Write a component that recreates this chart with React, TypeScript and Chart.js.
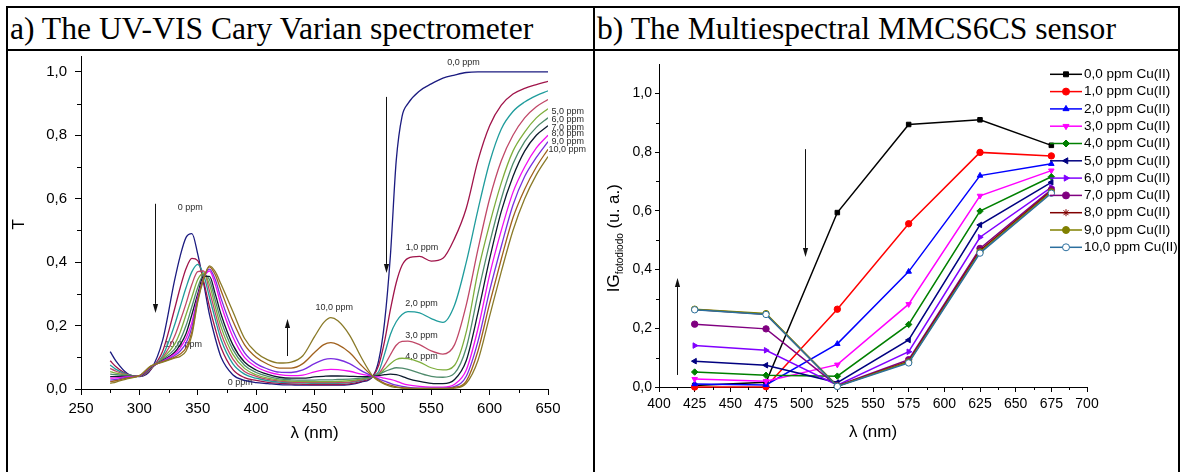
import React, { useEffect, useRef } from 'react';
import { Chart, registerables } from 'chart.js';
import { drawPoint } from 'chart.js/helpers';

Chart.register(...registerables);

const SANS = "'Liberation Sans', Arial, Helvetica, sans-serif";
const SERIF = "'Liberation Serif', 'Times New Roman', Times, serif";

/* ---------------- (a) UV-VIS transmittance spectra ---------------- */

const WAVELENGTHS = [
  275, 280, 290, 300, 310, 320, 330, 335, 340, 345,
  350, 355, 360, 365, 370, 380, 390, 400, 410, 420,
  430, 440, 450, 458, 464, 470, 480, 490, 500, 505,
  510, 515, 520, 525, 530, 540, 550, 560, 570, 580,
  590, 600, 610, 620, 630, 640, 650,
];

const T_00 = [
  0.118, 0.088, 0.048, 0.039, 0.062, 0.155, 0.34, 0.42, 0.478, 0.49,
  0.425, 0.335, 0.235, 0.16, 0.1, 0.045, 0.027, 0.02, 0.017, 0.014,
  0.013, 0.012, 0.012, 0.012, 0.012, 0.012, 0.014, 0.022, 0.04, 0.09,
  0.21, 0.42, 0.72, 0.86, 0.9, 0.94, 0.962, 0.98, 0.99, 0.998,
  1.0, 1.0, 1.0, 1.0, 1.0, 1.0, 1.0,
];
const T_10 = [
  0.089, 0.07, 0.046, 0.04, 0.063, 0.12, 0.25, 0.32, 0.38, 0.412,
  0.405, 0.34, 0.26, 0.19, 0.13, 0.062, 0.036, 0.027, 0.021, 0.018,
  0.016, 0.015, 0.014, 0.014, 0.014, 0.014, 0.016, 0.024, 0.04, 0.075,
  0.15, 0.25, 0.335, 0.39, 0.412, 0.418, 0.403, 0.412, 0.475, 0.57,
  0.72, 0.83, 0.895, 0.93, 0.948, 0.96, 0.97,
];
const T_20 = [
  0.076, 0.062, 0.045, 0.04, 0.065, 0.105, 0.2, 0.26, 0.32, 0.37,
  0.393, 0.36, 0.29, 0.22, 0.155, 0.08, 0.047, 0.034, 0.026, 0.022,
  0.02, 0.019, 0.018, 0.018, 0.018, 0.018, 0.02, 0.027, 0.04, 0.055,
  0.11, 0.172, 0.212, 0.235, 0.244, 0.24, 0.222, 0.21, 0.265, 0.4,
  0.565, 0.715, 0.82, 0.875, 0.905, 0.925, 0.94,
];
const T_30 = [
  0.065, 0.056, 0.044, 0.04, 0.066, 0.1, 0.165, 0.215, 0.27, 0.33,
  0.37, 0.372, 0.31, 0.24, 0.175, 0.095, 0.055, 0.04, 0.03, 0.025,
  0.022, 0.021, 0.02, 0.02, 0.02, 0.02, 0.022, 0.029, 0.04, 0.048,
  0.075, 0.108, 0.138, 0.15, 0.151, 0.14, 0.12, 0.11, 0.14, 0.265,
  0.44, 0.6, 0.72, 0.8, 0.855, 0.89, 0.913,
];
const T_40 = [
  0.055, 0.05, 0.043, 0.04, 0.067, 0.097, 0.14, 0.18, 0.235, 0.29,
  0.345, 0.365, 0.33, 0.26, 0.195, 0.11, 0.065, 0.045, 0.034, 0.028,
  0.025, 0.024, 0.023, 0.023, 0.023, 0.024, 0.026, 0.031, 0.04, 0.046,
  0.062, 0.08, 0.093, 0.097, 0.096, 0.085, 0.067, 0.06, 0.075, 0.18,
  0.37, 0.52, 0.65, 0.75, 0.81, 0.855, 0.884,
];
const T_50 = [
  0.047, 0.045, 0.042, 0.04, 0.068, 0.094, 0.125, 0.155, 0.2, 0.26,
  0.32, 0.36, 0.345, 0.28, 0.215, 0.125, 0.075, 0.052, 0.04, 0.032,
  0.029, 0.028, 0.028, 0.029, 0.029, 0.03, 0.031, 0.034, 0.04, 0.045,
  0.055, 0.062, 0.067, 0.066, 0.062, 0.05, 0.04, 0.037, 0.05, 0.13,
  0.3, 0.46, 0.6, 0.71, 0.78, 0.825, 0.855,
];
const T_60 = [
  0.039, 0.039, 0.04, 0.04, 0.069, 0.09, 0.115, 0.14, 0.175, 0.235,
  0.3, 0.355, 0.355, 0.3, 0.235, 0.14, 0.085, 0.06, 0.046, 0.037,
  0.034, 0.034, 0.038, 0.04, 0.041, 0.041, 0.04, 0.039, 0.04, 0.042,
  0.045, 0.047, 0.045, 0.04, 0.033, 0.024, 0.018, 0.017, 0.03, 0.09,
  0.24, 0.41, 0.56, 0.67, 0.75, 0.8, 0.83,
];
const T_70 = [
  0.034, 0.035, 0.039, 0.041, 0.07, 0.088, 0.11, 0.13, 0.16, 0.21,
  0.29, 0.35, 0.372, 0.33, 0.265, 0.165, 0.1, 0.07, 0.054, 0.045,
  0.042, 0.044, 0.054, 0.06, 0.062, 0.061, 0.056, 0.047, 0.04, 0.038,
  0.034, 0.03, 0.025, 0.018, 0.013, 0.008, 0.006, 0.006, 0.015, 0.06,
  0.19, 0.36, 0.5, 0.62, 0.7, 0.76, 0.8,
];
const T_80 = [
  0.028, 0.03, 0.037, 0.041, 0.071, 0.087, 0.105, 0.12, 0.145, 0.195,
  0.285, 0.35, 0.378, 0.345, 0.285, 0.185, 0.115, 0.08, 0.063, 0.053,
  0.052, 0.06, 0.08, 0.093, 0.096, 0.093, 0.08, 0.058, 0.04, 0.032,
  0.025, 0.018, 0.012, 0.008, 0.005, 0.003, 0.003, 0.003, 0.008, 0.04,
  0.15, 0.31, 0.45, 0.58, 0.67, 0.73, 0.78,
];
const T_90 = [
  0.023, 0.026, 0.035, 0.042, 0.072, 0.086, 0.1, 0.11, 0.13, 0.18,
  0.28, 0.35, 0.385, 0.36, 0.31, 0.215, 0.14, 0.1, 0.078, 0.066,
  0.066, 0.08, 0.115, 0.14, 0.146, 0.14, 0.115, 0.075, 0.04, 0.028,
  0.018, 0.012, 0.007, 0.004, 0.003, 0.002, 0.002, 0.002, 0.005, 0.025,
  0.12, 0.27, 0.41, 0.54, 0.63, 0.7, 0.756,
];
const T_100 = [
  0.018, 0.022, 0.033, 0.042, 0.073, 0.085, 0.097, 0.103, 0.12, 0.17,
  0.275, 0.345, 0.388, 0.37, 0.33, 0.245, 0.16, 0.115, 0.092, 0.082,
  0.085, 0.105, 0.165, 0.21, 0.225, 0.215, 0.17, 0.1, 0.04, 0.025,
  0.015, 0.008, 0.005, 0.003, 0.002, 0.001, 0.001, 0.001, 0.003, 0.018,
  0.09, 0.23, 0.37, 0.5, 0.6, 0.675, 0.733,
];

const SPECTRA_LABELS = ['0,0 ppm', '1,0 ppm', '2,0 ppm', '3,0 ppm', '4,0 ppm', '5,0 ppm', '6,0 ppm', '7,0 ppm', '8,0 ppm', '9,0 ppm', '10,0 ppm'];
const SPECTRA_VALUES = [T_00, T_10, T_20, T_30, T_40, T_50, T_60, T_70, T_80, T_90, T_100];
const SPECTRA_COLORS = ['#1b1b80', '#a0144a', '#1f9c9c', '#c04868', '#7eae3c', '#4f8b6c', '#0c1a2c', '#f20cf2', '#7a2ee0', '#a0601c', '#8a7a28'];

const SPECTRA_X_TICKS = [250, 300, 350, 400, 450, 500, 550, 600, 650];
const SPECTRA_X_MINOR = [275, 325, 375, 425, 475, 525, 575, 625];
const SPECTRA_Y_TICKS = [0, 0.2, 0.4, 0.6, 0.8, 1.0];
const SPECTRA_Y_MINOR = [0.1, 0.3, 0.5, 0.7, 0.9];

// curve annotations, placed in (wavelength, T) coordinates
const SPECTRA_NOTES = [
  { text: '0 ppm', x: 343.5, y: 0.571, align: 'center' },
  { text: '10,0 ppm', x: 337.5, y: 0.139, align: 'center' },
  { text: '0 ppm', x: 386.4, y: 0.019, align: 'center' },
  { text: '10,0 ppm', x: 467, y: 0.256, align: 'center' },
  { text: '1,0 ppm', x: 542, y: 0.445, align: 'center' },
  { text: '2,0 ppm', x: 541.6, y: 0.268, align: 'center' },
  { text: '3,0 ppm', x: 541.6, y: 0.17, align: 'center' },
  { text: '4,0 ppm', x: 541.6, y: 0.101, align: 'center' },
  { text: '0,0 ppm', x: 577.6, y: 1.028, align: 'center' },
  { text: '5,0 ppm', x: 653, y: 0.874, align: 'left' },
  { text: '6,0 ppm', x: 653, y: 0.849, align: 'left' },
  { text: '7,0 ppm', x: 653, y: 0.824, align: 'left' },
  { text: '8,0 ppm', x: 653, y: 0.805, align: 'left' },
  { text: '9,0 ppm', x: 653, y: 0.779, align: 'left' },
  { text: '10,0 ppm', x: 650.5, y: 0.754, align: 'left' },
];
const SPECTRA_ARROWS = [
  { x: 313.5, from: 0.584, to: 0.24 },
  { x: 426.7, from: 0.104, to: 0.221 },
  { x: 511.6, from: 0.921, to: 0.366 },
];

/* ---------------- (b) multispectral sensor response ---------------- */

const SENSOR_WAVELENGTHS = [425, 475, 525, 575, 625, 675];

const IG_00 = [0.005, 0.016, 0.594, 0.894, 0.91, 0.823];
const IG_10 = [0.0, 0.001, 0.265, 0.556, 0.799, 0.787];
const IG_20 = [0.01, 0.007, 0.147, 0.393, 0.72, 0.76];
const IG_30 = [0.027, 0.02, 0.076, 0.282, 0.651, 0.737];
const IG_40 = [0.051, 0.04, 0.037, 0.213, 0.599, 0.716];
const IG_50 = [0.088, 0.074, 0.015, 0.16, 0.552, 0.697];
const IG_60 = [0.141, 0.125, 0.006, 0.12, 0.51, 0.68];
const IG_70 = [0.214, 0.198, 0.004, 0.093, 0.472, 0.672];
const IG_80 = [0.264, 0.248, 0.003, 0.088, 0.465, 0.667];
const IG_90 = [0.265, 0.25, 0.003, 0.085, 0.46, 0.664];
const IG_100 = [0.263, 0.247, 0.002, 0.082, 0.456, 0.66];

const SENSOR_LABELS = [
  '0,0 ppm Cu(II)', '1,0 ppm Cu(II)', '2,0 ppm Cu(II)', '3,0 ppm Cu(II)', '4,0 ppm Cu(II)', '5,0 ppm Cu(II)',
  '6,0 ppm Cu(II)', '7,0 ppm Cu(II)', '8,0 ppm Cu(II)', '9,0 ppm Cu(II)', '10,0 ppm Cu(II)',
];
const SENSOR_VALUES = [IG_00, IG_10, IG_20, IG_30, IG_40, IG_50, IG_60, IG_70, IG_80, IG_90, IG_100];
const SENSOR_COLORS = ['#000000', '#ff0000', '#0000ff', '#ff00ff', '#008000', '#000080', '#8000ff', '#800080', '#800000', '#808000', '#2b6f9e'];
const SENSOR_MARKERS = [
  { style: 'rect', rotation: 0, fill: '' },
  { style: 'circle', rotation: 0, fill: '' },
  { style: 'triangle', rotation: 0, fill: '' },
  { style: 'triangle', rotation: 180, fill: '' },
  { style: 'rectRot', rotation: 0, fill: '' },
  { style: 'triangle', rotation: 270, fill: '' },
  { style: 'triangle', rotation: 90, fill: '' },
  { style: 'circle', rotation: 0, fill: '' },
  { style: 'star', rotation: 0, fill: '' },
  { style: 'circle', rotation: 0, fill: '' },
  { style: 'circle', rotation: 0, fill: '#ffffff' },
];

const SENSOR_X_TICKS = [400, 425, 450, 475, 500, 525, 550, 575, 600, 625, 650, 675, 700];
const SENSOR_X_MINOR = [412.5, 437.5, 462.5, 487.5, 512.5, 537.5, 562.5, 587.5, 612.5, 637.5, 662.5, 687.5];
const SENSOR_Y_TICKS = [0, 0.2, 0.4, 0.6, 0.8, 1.0];
const SENSOR_Y_MINOR = [0.1, 0.3, 0.5, 0.7, 0.9];

const SENSOR_ARROWS = [
  { x: 412.6, from: 0.041, to: 0.371 },
  { x: 502.3, from: 0.81, to: 0.443 },
];

/* ---------------- shared helpers ---------------- */

const commaLabel = (v: any) => Number(v).toFixed(1).replace('.', ',');

function axis(o: {
  min: number; max: number; ticks: number[]; size: number; horizontal: boolean;
  fontSize: number; tickLength: number; padding: number; format: (v: any) => string;
}) {
  return {
    type: 'linear',
    min: o.min,
    max: o.max,
    afterBuildTicks: (s: any) => {
      s.ticks = o.ticks.map((v) => ({ value: v }));
    },
    afterFit: (s: any) => {
      if (o.horizontal) s.height = o.size;
      else s.width = o.size;
      s.paddingTop = 0;
      s.paddingBottom = 0;
      s.paddingLeft = 0;
      s.paddingRight = 0;
    },
    ticks: {
      font: { family: SANS, size: o.fontSize },
      color: '#000',
      padding: o.padding,
      autoSkip: false,
      maxRotation: 0,
      minRotation: 0,
      callback: o.format,
    },
    grid: { display: true, drawOnChartArea: false, drawTicks: true, tickLength: o.tickLength, color: '#000', lineWidth: 1 },
    border: { display: true, color: '#000', width: 1 },
  };
}

function drawMinorTicks(chart: any, xs: number[], ys: number[], len: number) {
  const { ctx, chartArea, scales } = chart;
  ctx.save();
  ctx.strokeStyle = '#000';
  ctx.lineWidth = 1;
  ctx.beginPath();
  xs.forEach((v) => {
    const px = Math.round(scales.x.getPixelForValue(v)) + 0.5;
    ctx.moveTo(px, chartArea.bottom);
    ctx.lineTo(px, chartArea.bottom + len);
  });
  ys.forEach((v) => {
    const py = Math.round(scales.y.getPixelForValue(v)) + 0.5;
    ctx.moveTo(chartArea.left, py);
    ctx.lineTo(chartArea.left - len, py);
  });
  ctx.stroke();
  ctx.restore();
}

function drawArrows(chart: any, arrows: { x: number; from: number; to: number }[]) {
  const { ctx, scales } = chart;
  ctx.save();
  ctx.strokeStyle = '#111';
  ctx.fillStyle = '#111';
  ctx.lineWidth = 1;
  arrows.forEach((a) => {
    const x = Math.round(scales.x.getPixelForValue(a.x)) + 0.5;
    const y0 = scales.y.getPixelForValue(a.from);
    const y1 = scales.y.getPixelForValue(a.to);
    const dir = Math.sign(y1 - y0);
    const head = 9;
    ctx.beginPath();
    ctx.moveTo(x, y0);
    ctx.lineTo(x, y1 - dir * head);
    ctx.stroke();
    ctx.beginPath();
    ctx.moveTo(x, y1);
    ctx.lineTo(x - 2.6, y1 - dir * head);
    ctx.lineTo(x + 2.6, y1 - dir * head);
    ctx.closePath();
    ctx.fill();
  });
  ctx.restore();
}

/* ---------------- panel (a) ---------------- */

const spectraDecor = {
  id: 'spectraDecor',
  beforeDatasetsDraw(chart: any) {
    const { ctx, scales } = chart;
    ctx.save();
    ctx.fillStyle = '#2b2b2b';
    ctx.font = `9px ${SANS}`;
    ctx.textBaseline = 'middle';
    SPECTRA_NOTES.forEach((n) => {
      ctx.textAlign = n.align;
      ctx.fillText(n.text, scales.x.getPixelForValue(n.x), scales.y.getPixelForValue(n.y));
    });
    ctx.restore();
  },
  afterDraw(chart: any) {
    const { ctx, chartArea, scales } = chart;
    drawMinorTicks(chart, SPECTRA_X_MINOR, SPECTRA_Y_MINOR, 4);
    drawArrows(chart, SPECTRA_ARROWS);
    ctx.save();
    ctx.fillStyle = '#000';
    ctx.font = `17px ${SANS}`;
    ctx.textAlign = 'center';
    ctx.textBaseline = 'middle';
    ctx.fillText('λ (nm)', (chartArea.left + chartArea.right) / 2, chartArea.bottom + 44);
    ctx.translate(chartArea.left - 62, scales.y.getPixelForValue(0.5) - 6);
    ctx.rotate(-Math.PI / 2);
    ctx.fillText('T', 0, 0);
    ctx.restore();
  },
};

function SpectraPanel() {
  const ref = useRef<HTMLCanvasElement>(null);
  useEffect(() => {
    const canvas = ref.current;
    if (!canvas) return;
    const chart = new Chart(canvas, {
      type: 'line',
      data: {
        datasets: SPECTRA_VALUES.map((values, i) => ({
          label: SPECTRA_LABELS[i],
          data: WAVELENGTHS.map((w, k) => ({ x: w, y: values[k] })),
          borderColor: SPECTRA_COLORS[i],
          backgroundColor: SPECTRA_COLORS[i],
          borderWidth: 1.3,
          pointRadius: 0,
          cubicInterpolationMode: 'monotone',
          fill: false,
          order: SPECTRA_VALUES.length - i,
        })),
      },
      options: {
        responsive: false,
        animation: false,
        devicePixelRatio: 1,
        events: [],
        layout: { padding: { left: 0, right: 45, top: 4, bottom: 0 }, autoPadding: false },
        plugins: { legend: { display: false }, tooltip: { enabled: false } },
        scales: {
          x: axis({ min: 250, max: 650, ticks: SPECTRA_X_TICKS, size: 83, horizontal: true, fontSize: 15, tickLength: 6, padding: 5, format: (v: any) => String(v) }),
          y: axis({ min: 0, max: 1.05, ticks: SPECTRA_Y_TICKS, size: 73, horizontal: false, fontSize: 15, tickLength: 6, padding: 8, format: commaLabel }),
        },
      } as any,
      plugins: [spectraDecor],
    } as any);
    return () => chart.destroy();
  }, []);
  return <canvas ref={ref} width={585} height={420} style={{ position: 'absolute', left: 8, top: 52 }} />;
}

/* ---------------- panel (b) ---------------- */

const sensorDecor = {
  id: 'sensorDecor',
  afterDraw(chart: any) {
    const { ctx, chartArea, scales } = chart;
    drawMinorTicks(chart, SENSOR_X_MINOR, SENSOR_Y_MINOR, 3);
    drawArrows(chart, SENSOR_ARROWS);

    // legend: line sample with marker, then the series name
    ctx.save();
    ctx.font = `13.5px ${SANS}`;
    ctx.textAlign = 'left';
    ctx.textBaseline = 'middle';
    SENSOR_LABELS.forEach((label, i) => {
      const y = chartArea.top + 10.3 + i * 17.3;
      const x0 = chartArea.right - 37;
      const x1 = x0 + 32;
      const color = SENSOR_COLORS[i];
      const m = SENSOR_MARKERS[i];
      ctx.strokeStyle = color;
      ctx.lineWidth = 1.5;
      ctx.beginPath();
      ctx.moveTo(x0, y);
      ctx.lineTo(x1, y);
      ctx.stroke();
      ctx.fillStyle = m.fill || color;
      ctx.lineWidth = 1;
      drawPoint(ctx, { pointStyle: m.style, rotation: m.rotation, radius: 3.5, borderWidth: 1 } as any, (x0 + x1) / 2, y);
      ctx.fillStyle = '#000';
      ctx.fillText(label, x1 + 2, y);
    });
    ctx.restore();

    // axis titles
    ctx.save();
    ctx.fillStyle = '#000';
    ctx.font = `17px ${SANS}`;
    ctx.textAlign = 'center';
    ctx.textBaseline = 'middle';
    ctx.fillText('λ (nm)', (chartArea.left + chartArea.right) / 2, chartArea.bottom + 45);
    ctx.translate(chartArea.left - 46, scales.y.getPixelForValue(0.5) - 2);
    ctx.rotate(-Math.PI / 2);
    ctx.textAlign = 'left';
    ctx.textBaseline = 'alphabetic';
    const big = `17px ${SANS}`;
    const small = `10px ${SANS}`;
    ctx.font = big;
    const w1 = ctx.measureText('IG').width;
    const w3 = ctx.measureText(' (u. a.)').width;
    ctx.font = small;
    const w2 = ctx.measureText('fotodiodo').width;
    let px = -(w1 + w2 + w3) / 2;
    ctx.font = big;
    ctx.fillText('IG', px, 6);
    px += w1;
    ctx.font = small;
    ctx.fillText('fotodiodo', px, 10);
    px += w2;
    ctx.font = big;
    ctx.fillText(' (u. a.)', px, 6);
    ctx.restore();
  },
};

function SensorPanel() {
  const ref = useRef<HTMLCanvasElement>(null);
  useEffect(() => {
    const canvas = ref.current;
    if (!canvas) return;
    const chart = new Chart(canvas, {
      type: 'line',
      data: {
        datasets: SENSOR_VALUES.map((values, i) => ({
          label: SENSOR_LABELS[i],
          data: SENSOR_WAVELENGTHS.map((w, k) => ({ x: w, y: values[k] })),
          borderColor: SENSOR_COLORS[i],
          backgroundColor: SENSOR_COLORS[i],
          pointBackgroundColor: SENSOR_MARKERS[i].fill || SENSOR_COLORS[i],
          pointBorderColor: SENSOR_COLORS[i],
          pointStyle: SENSOR_MARKERS[i].style,
          pointRotation: SENSOR_MARKERS[i].rotation,
          pointRadius: 3.2,
          pointBorderWidth: 1,
          borderWidth: 1.5,
          tension: 0,
          fill: false,
          clip: false,
          order: SENSOR_VALUES.length - i,
        })),
      },
      options: {
        responsive: false,
        animation: false,
        devicePixelRatio: 1,
        events: [],
        layout: { padding: { left: 0, right: 90, top: 12, bottom: 0 }, autoPadding: false },
        plugins: { legend: { display: false }, tooltip: { enabled: false } },
        scales: {
          x: axis({ min: 400, max: 700, ticks: SENSOR_X_TICKS, size: 85, horizontal: true, fontSize: 14, tickLength: 5, padding: 4, format: (v: any) => String(v) }),
          y: axis({ min: 0, max: 1.1, ticks: SENSOR_Y_TICKS, size: 63, horizontal: false, fontSize: 14, tickLength: 4, padding: 3, format: commaLabel }),
        },
      } as any,
      plugins: [sensorDecor],
    } as any);
    return () => chart.destroy();
  }, []);
  return <canvas ref={ref} width={581} height={420} style={{ position: 'absolute', left: 596, top: 52 }} />;
}

/* ---------------- page ---------------- */

const line = (left: number, top: number, width: number, height: number) => (
  <div style={{ position: 'absolute', left, top, width, height, background: '#000' }} />
);

const headerText: React.CSSProperties = {
  position: 'absolute',
  top: 8,
  height: 42,
  lineHeight: '42px',
  fontFamily: SERIF,
  fontSize: 31.6,
  color: '#000',
  whiteSpace: 'nowrap',
};

export default function App() {
  return (
    <div style={{ position: 'fixed', left: 0, top: 0, width: 1181, height: 472, background: '#fff', overflow: 'hidden' }}>
      <div style={{ ...headerText, left: 10 }}>a) The UV-VIS Cary Varian spectrometer</div>
      <div style={{ ...headerText, left: 597 }}>b) The Multiespectral MMCS6CS sensor</div>
      <SpectraPanel />
      <SensorPanel />
      {line(6, 6, 1174, 2)}
      {line(6, 49, 1174, 2)}
      {line(6, 6, 2, 470)}
      {line(593, 6, 2, 470)}
      {line(1178, 6, 2, 470)}
    </div>
  );
}
